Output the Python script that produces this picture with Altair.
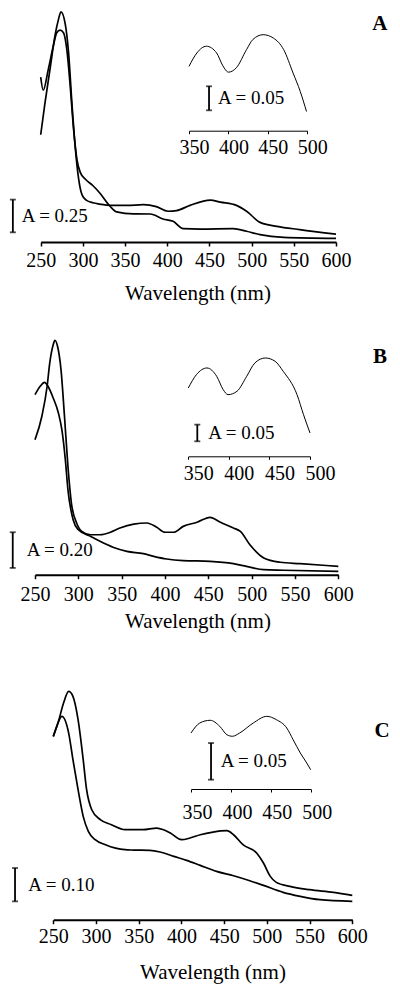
import altair as alt
import pandas as pd

# ---------------- data ----------------
panel_names = ["A", "B", "C"]
ticks_main = [250, 300, 350, 400, 450, 500, 550, 600]
ticks_inset = [350, 400, 450, 500]
bar_main = [0.25, 0.20, 0.10]      # scale-bar lengths (absorbance)
bar_inset = 0.05

# Panel A
wl_A_band = [250, 255, 261, 267, 271, 274, 279, 283, 287, 291, 295, 299, 304, 312, 320, 332, 352,
             372, 387, 401, 411, 427, 451, 463, 482, 494, 510, 530, 557, 600]
ab_A_band = [0.82, 1.06, 1.32, 1.58, 1.70, 1.76, 1.67, 1.45, 1.06, 0.72, 0.48, 0.36, 0.32, 0.30, 0.29,
             0.28, 0.28, 0.285, 0.27, 0.235, 0.24, 0.28, 0.32, 0.305, 0.28, 0.235, 0.15, 0.12, 0.095, 0.06]
wl_A_smooth = [250, 253, 259, 265, 269, 273, 277, 281, 285, 289, 293, 297, 303, 312, 320, 332, 340,
               360, 380, 395, 407, 419, 439, 478, 494, 510, 538, 600]
ab_A_smooth = [1.26, 1.16, 1.32, 1.50, 1.60, 1.62, 1.60, 1.47, 1.19, 0.86, 0.63, 0.53, 0.48, 0.43,
               0.375, 0.275, 0.23, 0.215, 0.214, 0.176, 0.158, 0.102, 0.099, 0.102, 0.082, 0.056,
               0.036, 0.028]
wl_A_inset = [350, 360, 372, 385, 393, 400, 410, 423, 431, 444, 457, 470, 482, 491, 499]
ab_A_inset = [0.134, 0.162, 0.176, 0.162, 0.135, 0.122, 0.131, 0.169, 0.190, 0.200, 0.193, 0.169,
              0.120, 0.082, 0.040]

# Panel B
wl_B_band = [250, 258, 264, 267, 271, 273, 276, 280, 284, 288, 292, 298, 304, 314, 325, 337, 348,
             364, 379, 390, 400, 410, 421, 437, 452, 464, 479, 487, 498, 514, 533, 556, 600]
ab_B_band = [0.757, 0.890, 1.057, 1.187, 1.290, 1.315, 1.281, 1.150, 0.890, 0.608, 0.402, 0.290,
             0.243, 0.224, 0.224, 0.238, 0.262, 0.284, 0.290, 0.268, 0.238, 0.238, 0.271, 0.294,
             0.322, 0.294, 0.262, 0.243, 0.168, 0.094, 0.070, 0.062, 0.047]
wl_B_smooth = [250, 256, 261, 265, 271, 277, 281, 285, 288, 294, 300, 314, 325, 340, 356, 375, 387,
               402, 421, 452, 479, 494, 514, 537, 600]
ab_B_smooth = [1.010, 1.057, 1.079, 1.057, 0.991, 0.907, 0.813, 0.645, 0.477, 0.308, 0.252, 0.215,
               0.187, 0.154, 0.131, 0.118, 0.103, 0.088, 0.079, 0.075, 0.062, 0.047, 0.028, 0.025,
               0.019]
wl_B_inset = [350, 360, 373, 385, 393, 399, 410, 422, 432, 445, 457, 467, 484, 492, 500]
ab_B_inset = [0.205, 0.245, 0.265, 0.240, 0.200, 0.185, 0.195, 0.240, 0.280, 0.295, 0.285, 0.255,
              0.185, 0.125, 0.070]

# Panel C
wl_C_band = [250, 256, 262, 268, 273, 279, 285, 289, 295, 305, 318, 334, 355, 371, 379, 387, 400,
             410, 422, 437, 453, 461, 472, 488, 496, 504, 511, 527, 550, 578, 600]
ab_C_band = [0.550, 0.595, 0.650, 0.685, 0.670, 0.600, 0.480, 0.390, 0.330, 0.300, 0.285, 0.270,
             0.270, 0.275, 0.270, 0.260, 0.240, 0.245, 0.255, 0.263, 0.267, 0.255, 0.225, 0.200,
             0.170, 0.130, 0.112, 0.100, 0.090, 0.082, 0.073]
wl_C_smooth = [250, 254, 260, 268, 273, 279, 285, 291, 299, 311, 334, 344, 363, 375, 391, 406, 422,
               441, 461, 480, 496, 519, 539, 562, 600]
ab_C_smooth = [0.550, 0.580, 0.610, 0.560, 0.480, 0.390, 0.310, 0.265, 0.240, 0.225, 0.210, 0.209,
               0.208, 0.203, 0.190, 0.178, 0.163, 0.145, 0.132, 0.117, 0.103, 0.082, 0.070, 0.060,
               0.055]
wl_C_inset = [350, 361, 374, 386, 395, 402, 411, 428, 445, 457, 470, 478, 487, 495, 500]
ab_C_inset = [0.0764, 0.090, 0.0937, 0.0855, 0.074, 0.0719, 0.0764, 0.090, 0.0991, 0.0945, 0.0832,
              0.0672, 0.0491, 0.0355, 0.0263]

series = {
    "A": (wl_A_band, ab_A_band, wl_A_smooth, ab_A_smooth, wl_A_inset, ab_A_inset),
    "B": (wl_B_band, ab_B_band, wl_B_smooth, ab_B_smooth, wl_B_inset, ab_B_inset),
    "C": (wl_C_band, ab_C_band, wl_C_smooth, ab_C_smooth, wl_C_inset, ab_C_inset),
}

# ---------------- layout / style ----------------
W, H = 384, 978
FONT = "Liberation Serif"

layout = {
    "A": dict(mx=[32.7, 328.0], my=231.0, mpx=130.8, ix=[181.0, 299.3], iy=119.7, ipx=480.0,
              m_lpad=4.0, m_tpad=12.9, t_x=189.5, i_lpad=3.4, i_loff=5,
              bar_x=217, bar_y0=0.074, txt_x=227.5, let_x=652, let_y=1.663,
              ibar_x=375.4, ibar_y0=0.0425, itxt_x=386.8),
    "B": dict(mx=[27.0, 330.3], my=563.7, mpx=178.3, ix=[180.3, 302.0], iy=445.3, ipx=333.3,
              m_lpad=6.0, m_tpad=5.6, t_x=189.5, i_lpad=4.0, i_loff=10,
              bar_x=224.3, bar_y0=0.038, txt_x=240.4, let_x=648, let_y=1.221,
              ibar_x=361.1, ibar_y0=0.045, itxt_x=374.7),
    "C": dict(mx=[45.3, 344.3], my=908.7, mpx=333.3, ix=[183.0, 302.7], iy=778.0, ipx=733.3,
              m_lpad=3.0, m_tpad=15.2, t_x=204.5, i_lpad=10.6, i_loff=6,
              bar_x=205.2, bar_y0=0.055, txt_x=220.7, let_x=634.8, let_y=0.566,
              ibar_x=375.1, ibar_y0=0.0127, itxt_x=387.2),
}


def scale_bar_layers(bar_df, xs, ys, xaxis, stroke_w, cap_size):
    base = alt.Chart(bar_df)
    rule = base.mark_rule(color="black", strokeWidth=stroke_w).encode(
        x=alt.X("bx:Q", scale=xs, axis=xaxis),
        y=alt.Y("y0:Q", scale=ys, axis=None),
        y2="y1:Q",
    )
    cap_lo = base.mark_tick(color="black", orient="horizontal", size=cap_size,
                            thickness=stroke_w).encode(
        x=alt.X("bx:Q", scale=xs, axis=xaxis),
        y=alt.Y("y0:Q", scale=ys, axis=None),
    )
    cap_hi = base.mark_tick(color="black", orient="horizontal", size=cap_size,
                            thickness=stroke_w).encode(
        x=alt.X("bx:Q", scale=xs, axis=xaxis),
        y=alt.Y("y1:Q", scale=ys, axis=None),
    )
    txt = base.mark_text(align="left", baseline="middle", font=FONT, fontSize=19,
                         color="black").encode(
        x=alt.X("tx:Q", scale=xs, axis=xaxis),
        y=alt.Y("ym:Q", scale=ys, axis=None),
        text="label:N",
    )
    return [rule, cap_lo, cap_hi, txt]


layers = []
for i, name in enumerate(panel_names):
    cfg = layout[name]
    wb, ab, ws, as_, wi, ai = series[name]
    df_main = pd.concat([
        pd.DataFrame({"nm": wb, "A": ab, "series": "band"}),
        pd.DataFrame({"nm": ws, "A": as_, "series": "smooth"}),
    ])
    df_inset = pd.DataFrame({"nm": wi, "A": ai})

    # ---- main spectrum ----
    xs = alt.Scale(domain=[250, 600], range=cfg["mx"], nice=False, zero=False)
    ys = alt.Scale(domain=[0, 1], range=[cfg["my"], cfg["my"] - cfg["mpx"]], nice=False, zero=False)
    xaxis = alt.Axis(orient="bottom", offset=cfg["my"] - H, values=ticks_main,
                     title="Wavelength (nm)", grid=False,
                     domainColor="black", domainWidth=2, tickColor="black", tickSize=4,
                     tickWidth=1.5, labelFont=FONT, labelFontSize=20, labelColor="black",
                     labelPadding=cfg["m_lpad"], labelFlush=False, labelOverlap=False,
                     titleFont=FONT, titleFontSize=21, titleFontWeight="normal",
                     titleColor="black", titlePadding=cfg["m_tpad"], titleX=cfg["t_x"])
    lines = alt.Chart(df_main).mark_line(color="black", strokeWidth=1.7,
                                         interpolate="monotone").encode(
        x=alt.X("nm:Q", scale=xs, axis=xaxis),
        y=alt.Y("A:Q", scale=ys, axis=None),
        detail="series:N",
    )
    y0 = cfg["bar_y0"]
    bl = bar_main[i]
    bar_df = pd.DataFrame({"bx": [cfg["bar_x"]], "y0": [y0], "y1": [y0 + bl],
                           "ym": [y0 + bl / 2], "tx": [cfg["txt_x"]],
                           "label": [f"A = {bl:.2f}"], "panel": [name]})
    letter = alt.Chart(bar_df).mark_text(align="center", baseline="middle", font=FONT,
                                         fontSize=21, fontWeight="bold", color="black").encode(
        x=alt.X(datum=cfg["let_x"], scale=xs, axis=xaxis),
        y=alt.Y(datum=cfg["let_y"], scale=ys, axis=None),
        text="panel:N",
    )
    main_layer = alt.layer(lines, *scale_bar_layers(bar_df, xs, ys, xaxis, 1.8, 6), letter)

    # ---- inset ----
    ixs = alt.Scale(domain=[350, 500], range=cfg["ix"], nice=False, zero=False)
    iys = alt.Scale(domain=[0, 1], range=[cfg["iy"], cfg["iy"] - cfg["ipx"]], nice=False, zero=False)
    iaxis = alt.Axis(orient="bottom", offset=cfg["iy"] - H, values=ticks_inset, title=None,
                     grid=False, domainColor="black", domainWidth=1, tickColor="black",
                     tickSize=3, tickWidth=1, labelFont=FONT, labelFontSize=20,
                     labelColor="black", labelPadding=cfg["i_lpad"],
                     labelOffset=cfg["i_loff"], labelFlush=False, labelOverlap=False)
    icurve = alt.Chart(df_inset).mark_line(color="black", strokeWidth=1.0,
                                           interpolate="monotone").encode(
        x=alt.X("nm:Q", scale=ixs, axis=iaxis),
        y=alt.Y("A:Q", scale=iys, axis=None),
    )
    iy0 = cfg["ibar_y0"]
    ibar_df = pd.DataFrame({"bx": [cfg["ibar_x"]], "y0": [iy0], "y1": [iy0 + bar_inset],
                            "ym": [iy0 + bar_inset / 2], "tx": [cfg["itxt_x"]],
                            "label": [f"A = {bar_inset:.2f}"]})
    inset_layer = alt.layer(icurve, *scale_bar_layers(ibar_df, ixs, iys, iaxis, 1.8, 6))

    layers += [main_layer, inset_layer]

chart = (
    alt.layer(*layers)
    .resolve_scale(x="independent", y="independent")
    .properties(width=W, height=H, padding=0, background="white")
    .configure_view(stroke=None)
    .configure_axis(labelFont=FONT, titleFont=FONT, titleFontWeight="normal")
    .configure_text(font=FONT)
)

chart.save("out.html", embed_options={"renderer": "svg", "actions": False})
